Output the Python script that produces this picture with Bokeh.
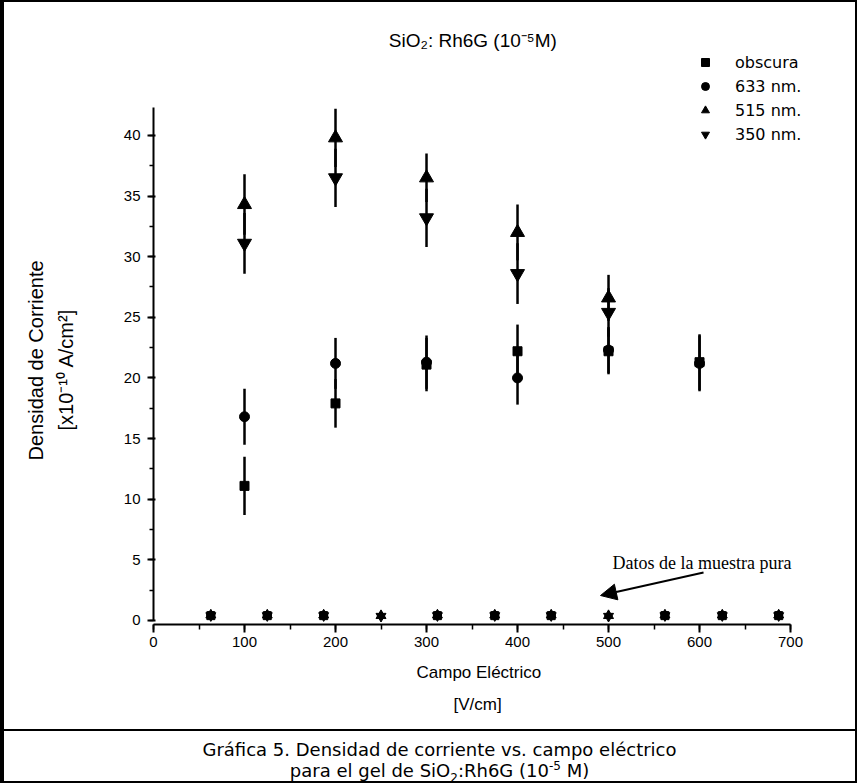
import math
from bokeh.plotting import figure
from bokeh.layouts import column
from bokeh.models import (Range1d, Label, Arrow, NormalHead, Whisker, ColumnDataSource,
                          Legend, LegendItem, SingleIntervalTicker, Title, Div)
from bokeh.embed import file_html
from bokeh.resources import INLINE

# ---------------- data ----------------
field = [100, 200, 300, 400, 500, 600]
dark = [11.1, 17.9, 21.1, 22.2, 22.2, 21.3]
dark_err = [2.4, 2.0, 2.2, 2.2, 1.9, 2.3]
nm633 = [16.8, 21.2, 21.3, 20.0, 22.3, 21.2]
nm633_err = [2.3, 2.1, 2.2, 2.2, 1.9, 2.3]

field_light = [100, 200, 300, 400, 500]
nm515 = [34.3, 39.8, 36.5, 32.0, 26.6]
nm515_err = [2.5, 2.4, 2.0, 2.3, 1.9]
nm350 = [31.1, 36.5, 33.2, 28.6, 25.4]
nm350_err = [2.5, 2.4, 2.4, 2.5, 2.0]

# pure sample (muestra pura) - values close to zero
pure_field = [63, 125, 187, 250, 312, 375, 437, 500, 562, 625, 687]
pure_515 = [0.45, 0.45, 0.45, 0.4, 0.45, 0.45, 0.45, 0.4, 0.45, 0.45, 0.45]
pure_350 = [0.4, 0.4, 0.4, 0.35, 0.4, 0.4, 0.4, 0.35, 0.4, 0.4, 0.4]
pure_field_dark = [63, 125, 187, 312, 375, 437, 562, 625, 687]
pure_dark = [0.4, 0.4, 0.4, 0.4, 0.4, 0.4, 0.4, 0.4, 0.4]
pure_633 = [0.45, 0.45, 0.45, 0.45, 0.45, 0.45, 0.45, 0.45, 0.45]

legend_labels = ["obscura", "633 nm.", "515 nm.", "350 nm."]
title_text = "SiO\u2082: Rh6G  (10\u207b\u2075M)"
ylabel1 = "Densidad de Corriente"
ylabel2 = "[x10\u207b\u00b9\u2070 A/cm\u00b2]"
xlabel1 = "Campo El\u00e9ctrico"
xlabel2 = "[V/cm]"
note_text = "Datos de la muestra pura"
caption1 = "Gr\u00e1fica 5. Densidad de corriente vs. campo el\u00e9ctrico"
caption2 = ("para el gel de SiO<sub style='line-height:0; font-size:12px'>2</sub>:Rh6G "
            "(10<sup style='line-height:0; font-size:12px'>-5</sup> M)")

AX_FONT = "Liberation Sans"

# ---------------- main figure ----------------
p = figure(width=851, height=727, output_backend="svg", toolbar_location=None,
           x_range=Range1d(0, 760.4), y_range=Range1d(-0.33, 49.06),
           min_border_left=149, min_border_right=10, min_border_top=23,
           min_border_bottom=105, title=None)
p.background_fill_color = "white"
p.border_fill_color = "white"
p.outline_line_color = None
p.xgrid.visible = False
p.ygrid.visible = False

xa = p.xaxis[0]
xa.ticker = SingleIntervalTicker(interval=100, num_minor_ticks=2)
xa.bounds = (0, 700)
xa.axis_line_width = 2
xa.axis_line_color = "black"
xa.major_tick_line_width = 2
xa.major_tick_out = 8
xa.major_tick_in = 0
xa.minor_tick_line_width = 1.5
xa.minor_tick_out = 5
xa.minor_tick_in = 0
xa.major_label_text_font = AX_FONT
xa.major_label_text_font_size = "15px"
xa.major_label_text_color = "black"
xa.major_label_standoff = 4

ya = p.yaxis[0]
ya.ticker = SingleIntervalTicker(interval=5, num_minor_ticks=2)
ya.bounds = (0, 42.3)
ya.axis_line_width = 2
ya.axis_line_color = "black"
ya.major_tick_line_width = 2
ya.major_tick_out = 6
ya.major_tick_in = 2
ya.minor_tick_line_width = 1.5
ya.minor_tick_out = 4
ya.minor_tick_in = 0
ya.major_label_text_font = AX_FONT
ya.major_label_text_font_size = "15px"
ya.major_label_text_color = "black"
ya.major_label_standoff = 7
ya.axis_label = "\u00a0"
ya.axis_label_text_font_size = "1px"
ya.axis_label_standoff = 37

def side_title(text, side, size, offset, standoff, font=AX_FONT):
    p.add_layout(Title(text=text, align="left", offset=offset, standoff=standoff,
                       text_font=font, text_font_size=size, text_font_style="normal",
                       text_color="black"), side)

# y label lines (inner line first)
side_title(ylabel2, "left", "20px", 194, 6)
side_title(ylabel1, "left", "20px", 164, 6)
# x label lines
side_title(xlabel1, "below", "17px", 263, 22)
side_title(xlabel2, "below", "17px", 300, 0)

# ---------------- error bars ----------------
def add_err(xs, ys, es):
    src = ColumnDataSource(dict(x=xs, lo=[y - e for y, e in zip(ys, es)],
                                hi=[y + e for y, e in zip(ys, es)]))
    p.add_layout(Whisker(base="x", lower="lo", upper="hi", source=src, dimension="height",
                         line_color="black", line_width=2.5, upper_head=None, lower_head=None))

add_err(field, dark, dark_err)
add_err(field, nm633, nm633_err)
add_err(field_light, nm515, nm515_err)
add_err(field_light, nm350, nm350_err)

# ---------------- markers ----------------
r_dark = p.scatter(field, dark, marker="square", size=9, color="black")
r_633 = p.scatter(field, nm633, marker="circle", size=10, color="black")
r_515 = p.scatter(field_light, nm515, marker="triangle", size=14, color="black")
r_350 = p.scatter(field_light, nm350, marker="inverted_triangle", size=14, color="black")

p.scatter(pure_field_dark, pure_dark, marker="square", size=8, color="black")
p.scatter(pure_field_dark, pure_633, marker="circle", size=8, color="black")
p.scatter(pure_field, pure_515, marker="triangle", size=10, color="black")
p.scatter(pure_field, pure_350, marker="inverted_triangle", size=10, color="black")

legend = Legend(items=[LegendItem(label=legend_labels[0], renderers=[r_dark]),
                       LegendItem(label=legend_labels[1], renderers=[r_633]),
                       LegendItem(label=legend_labels[2], renderers=[r_515]),
                       LegendItem(label=legend_labels[3], renderers=[r_350])],
                location=(542, 480), border_line_color=None, background_fill_alpha=0,
                padding=0, margin=0, spacing=4, glyph_height=20, glyph_width=20,
                label_standoff=20, label_text_font="DejaVu Sans", label_text_font_size="16px",
                label_text_color="black", label_height=20)
p.add_layout(legend)

p.add_layout(Label(x=353.8, y=47.8, text=title_text, text_font=AX_FONT,
                   text_font_size="19px", text_align="center", text_baseline="middle",
                   text_color="black"))
p.add_layout(Label(x=504.4, y=4.7, text=note_text, text_font="Liberation Serif",
                   text_font_size="18px", text_align="left", text_baseline="middle",
                   text_color="black"))

p.add_layout(Arrow(x_start=604.4, y_start=3.96, x_end=491.2, y_end=2.06,
                   line_width=2, line_color="black",
                   end=NormalHead(size=16, fill_color="black", line_color="black")))

# ---------------- caption ----------------
cap = Div(width=851, height=52, margin=0,
          text=("<div style=\"box-sizing:border-box; width:851px; border-top:2px solid black; "
                "padding-top:8px; padding-left:20px; text-align:center; "
                "font-family:'DejaVu Sans'; font-size:18px; line-height:21px; color:black;\">"
                + caption1 + "<br>" + caption2 + "</div>"))

layout = column(p, cap, spacing=0,
                styles={"border-left": "4px solid black", "border-top": "2px solid black",
                        "border-right": "2px solid black", "border-bottom": "2px solid black"})

open("out.html", "w").write(file_html(layout, INLINE))
